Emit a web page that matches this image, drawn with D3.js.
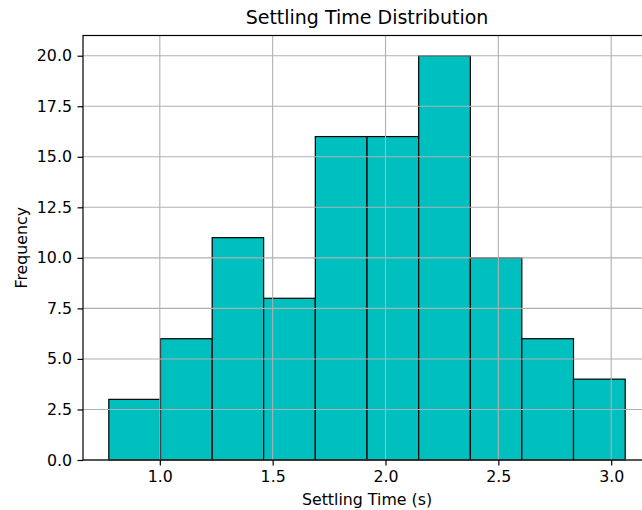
<!DOCTYPE html>
<html><head><meta charset="utf-8">
<script src="https://cdn.jsdelivr.net/npm/d3@7"></script>
<style>body{margin:0;background:#fff}svg{display:block}text{font-family:"DejaVu Sans",sans-serif}</style>
</head><body>
<script>
const binEdges = [0.774, 1.003, 1.232, 1.460, 1.689, 1.918, 2.147, 2.376, 2.604, 2.833, 3.062];
const counts = [3, 6, 11, 8, 16, 16, 20, 10, 6, 4];
const xTicks = [1.0, 1.5, 2.0, 2.5, 3.0];
const yTicks = [0, 2.5, 5, 7.5, 10, 12.5, 15, 17.5, 20];

const W = 642, H = 510;
const L = 83, R = 651, T = 35.5, B = 460;
const svg = d3.select("body").append("svg").attr("width", W).attr("height", H);

const x = d3.scaleLinear().domain([0.6596, 3.1764]).range([L, R]);
const y = d3.scaleLinear().domain([0, 21]).range([B, T]);

const bins = counts.map((c, i) => ({x0: binEdges[i], x1: binEdges[i+1], c}));

svg.append("g").selectAll("rect").data(bins).join("rect")
  .attr("x", d => x(d.x0)).attr("y", d => y(d.c))
  .attr("width", d => x(d.x1) - x(d.x0)).attr("height", d => y(0) - y(d.c))
  .attr("fill", "#00bfbf").attr("stroke", "#000").attr("stroke-width", 1.2);

// grid
const g = svg.append("g").attr("stroke", "#b0b0b0").attr("stroke-width", 1.1);
xTicks.forEach(t => g.append("line").attr("x1", x(t)).attr("x2", x(t)).attr("y1", T).attr("y2", B));
yTicks.forEach(t => g.append("line").attr("x1", L).attr("x2", R).attr("y1", y(t)).attr("y2", y(t)));

// axes
const xAxis = d3.axisBottom(x).tickValues(xTicks).tickFormat(d3.format(".1f")).tickSizeInner(5.5).tickSizeOuter(0).tickPadding(5.5);
const yAxis = d3.axisLeft(y).tickValues(yTicks).tickFormat(d3.format(".1f")).tickSizeInner(5.5).tickSizeOuter(0).tickPadding(5.5);
const gx = svg.append("g").attr("transform", `translate(0,${B})`).call(xAxis);
const gy = svg.append("g").attr("transform", `translate(${L},0)`).call(yAxis);
[gx, gy].forEach(a => {
  a.select(".domain").remove();
  a.selectAll("line").attr("stroke", "#000").attr("stroke-width", 1.2);
  a.selectAll("text").attr("font-size", "15.8px").attr("fill", "#000").attr("font-family", "DejaVu Sans, sans-serif");
});

// spines
svg.append("rect").attr("x", L).attr("y", T).attr("width", R - L).attr("height", B - T)
  .attr("fill", "none").attr("stroke", "#000").attr("stroke-width", 1.2);

svg.append("text").attr("x", (L + R) / 2).attr("y", 24).attr("text-anchor", "middle")
  .attr("font-size", "19px").text("Settling Time Distribution");
svg.append("text").attr("x", (L + R) / 2).attr("y", 505).attr("text-anchor", "middle")
  .attr("font-size", "15.8px").text("Settling Time (s)");
svg.append("text").attr("transform", `translate(26.5,${(T + B) / 2}) rotate(-90)`).attr("text-anchor", "middle")
  .attr("font-size", "15.8px").text("Frequency");
</script>
</body></html>
